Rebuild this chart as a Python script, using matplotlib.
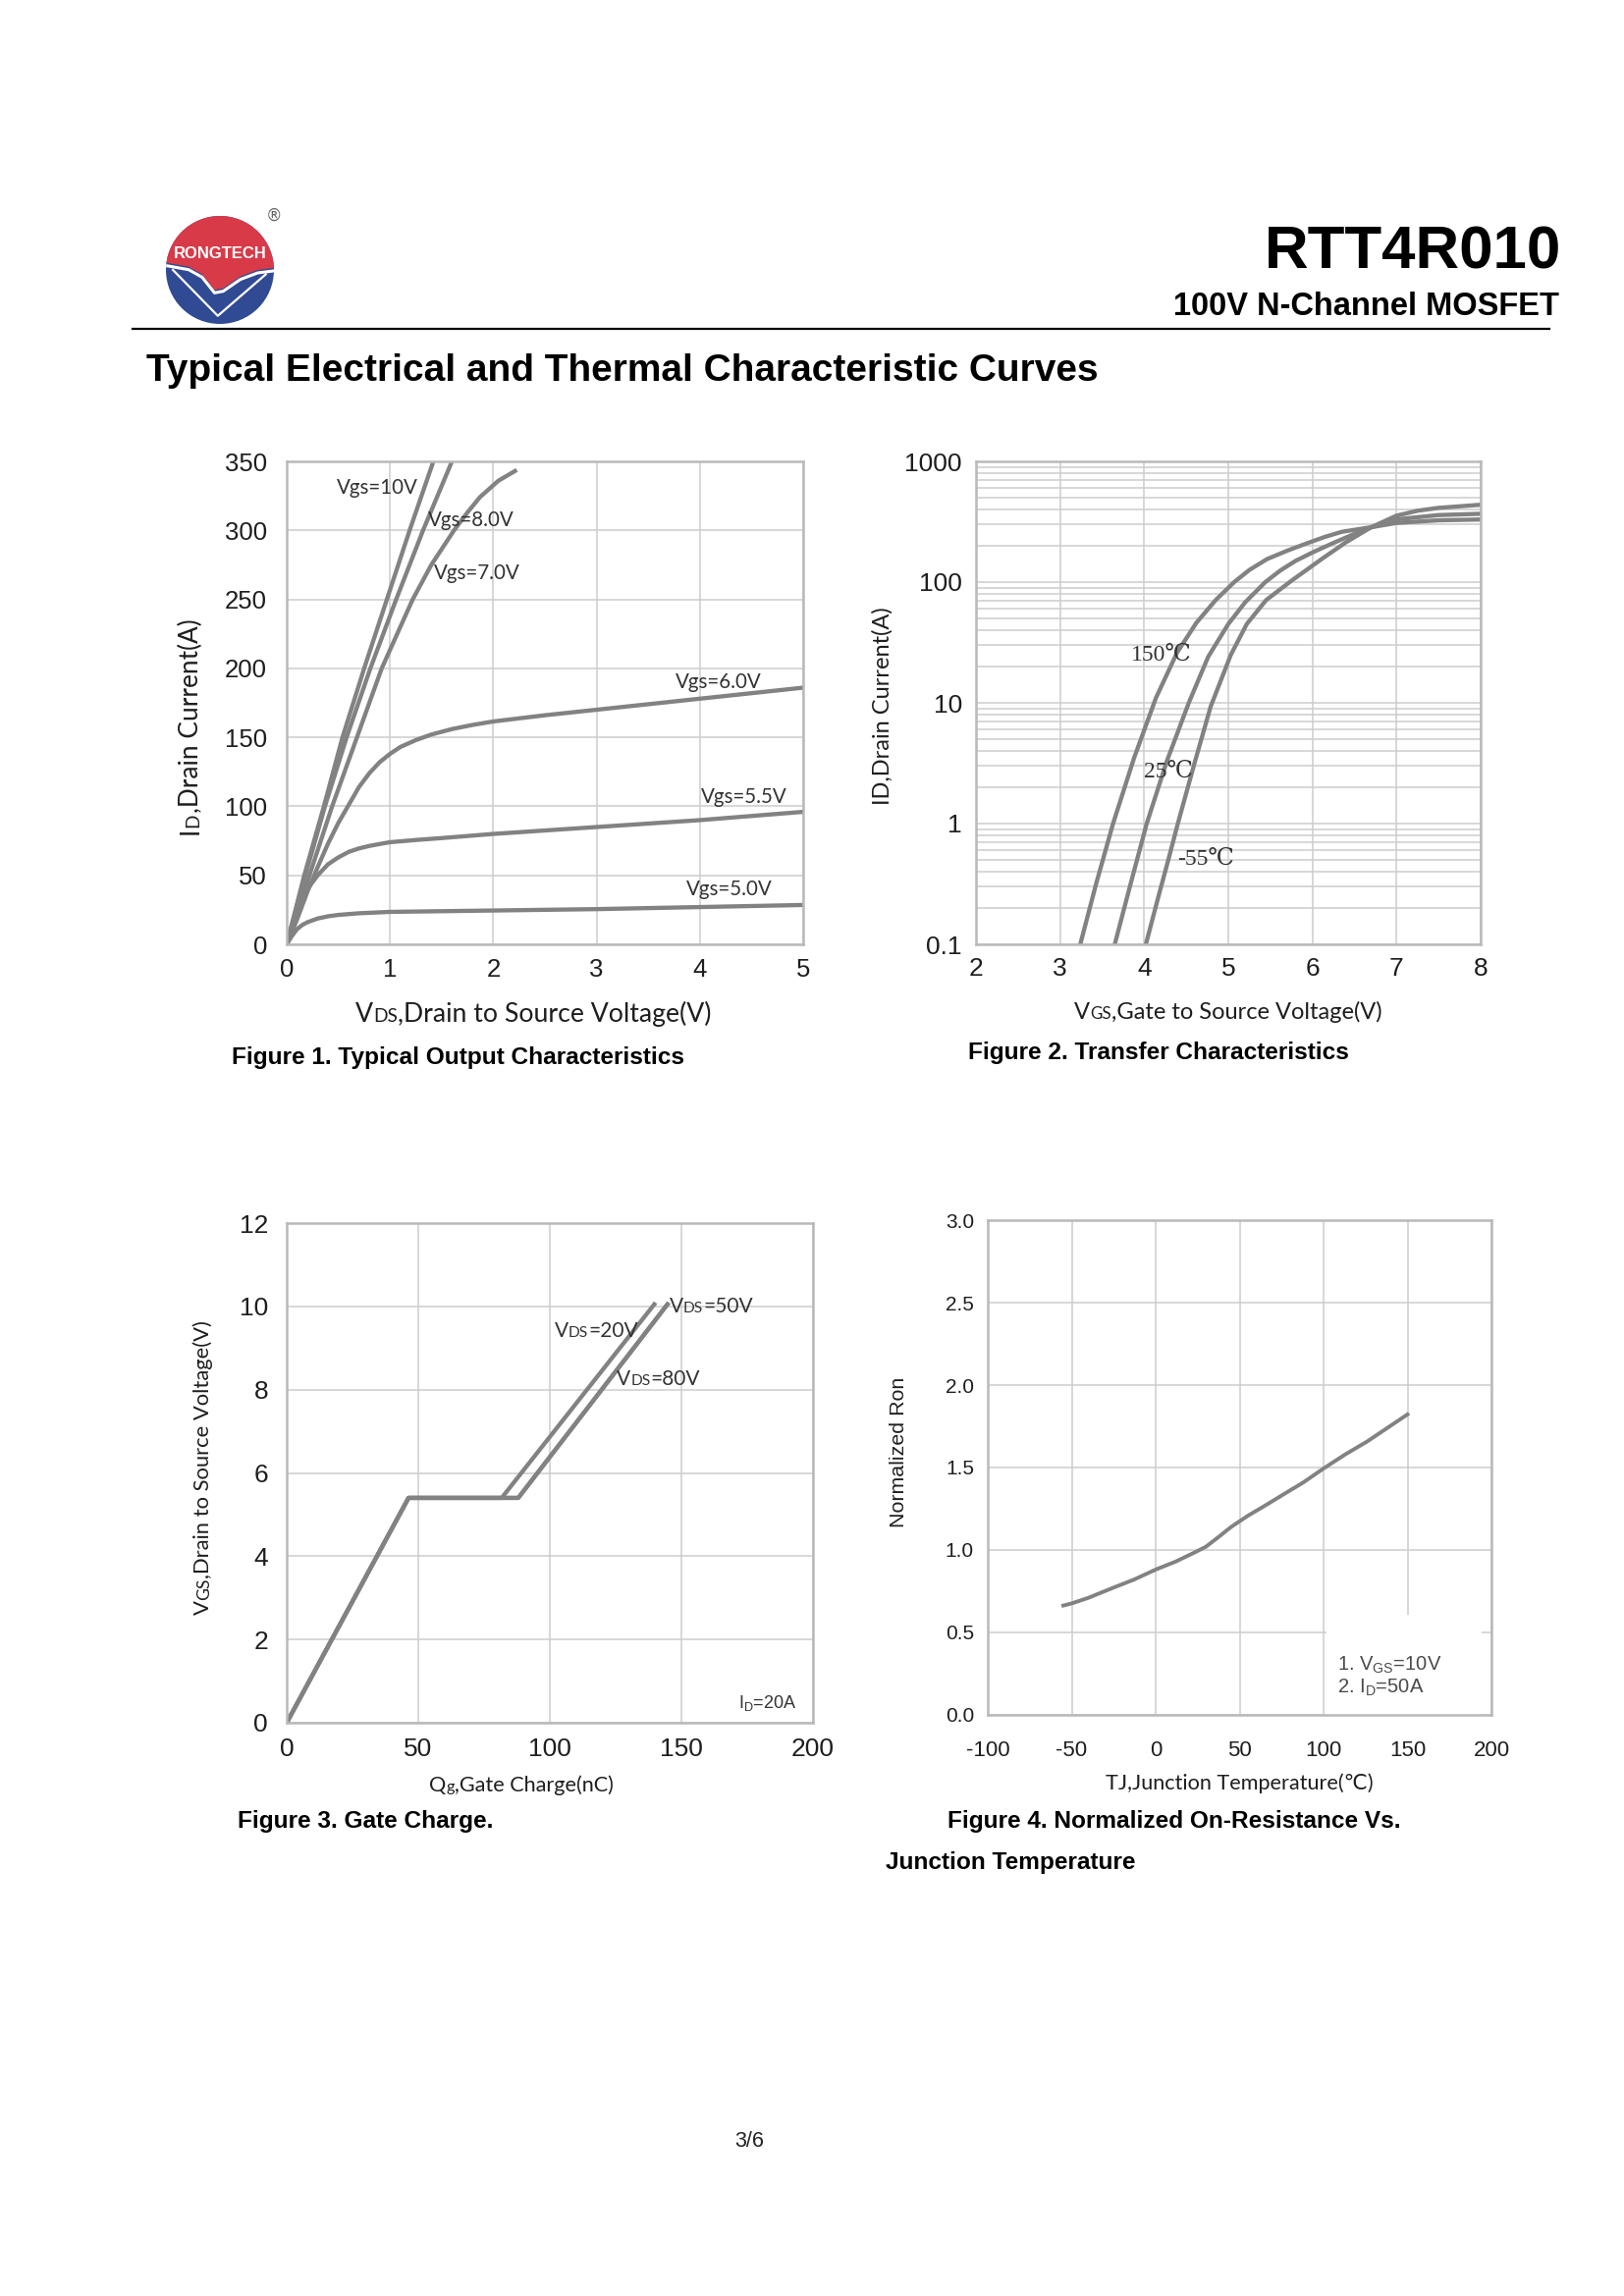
import matplotlib
matplotlib.use("Agg")
import matplotlib.pyplot as plt
import numpy as np
from matplotlib.patches import Circle, Polygon, Rectangle
from matplotlib.ticker import LogLocator, NullFormatter

W, H = 1654, 2339          # page size in pixels (dpi 100)
PT = 0.72                  # points per pixel

ARIAL = ["Liberation Sans", "DejaVu Sans"]
CALIBRI = ["Lato", "DejaVu Sans"]
SERIF = ["Liberation Serif", "DejaVu Serif"]

CURVE = "#828282"
GRID = "#cdcdcd"
SPINE = "#b9b9b9"
TEXT = "#1e1e1e"
RED = "#d83a48"
BLUE = "#304a93"
LW = 3.1

plt.rcParams["font.family"] = ARIAL
plt.rcParams["axes.unicode_minus"] = False

# ---------------- Figure 1: typical output characteristics (VDS [V], ID [A])
out_labels = ["Vgs=10V", "Vgs=8.0V", "Vgs=7.0V", "Vgs=6.0V", "Vgs=5.5V", "Vgs=5.0V"]
out_vds = [
    [0, 0.17, 0.36, 0.54, 0.75, 0.97, 1.19, 1.42],
    [0, 0.18, 0.37, 0.58, 0.81, 1.06, 1.32, 1.60],
    [0, 0.22, 0.44, 0.68, 0.92, 1.22, 1.40, 1.62, 1.75, 1.87, 2.05, 2.21],
    [0, 0.1, 0.2, 0.3, 0.4, 0.5, 0.6, 0.7, 0.8, 0.9, 1.0, 1.1, 1.25, 1.4, 1.6, 1.8,
     2.0, 2.5, 3.0, 3.5, 4.0, 4.5, 5.0],
    [0, 0.05, 0.1, 0.15, 0.2, 0.3, 0.4, 0.5, 0.6, 0.7, 0.8, 0.9, 1.0, 1.25, 1.5, 2.0,
     3.0, 4.0, 5.0],
    [0, 0.05, 0.1, 0.15, 0.2, 0.3, 0.4, 0.5, 0.7, 1.0, 1.5, 2.0, 3.0, 4.0, 5.0],
]
out_id = [
    [0, 50, 100, 150, 200, 250, 300, 350],
    [0, 50, 100, 150, 200, 250, 300, 350],
    [0, 50, 100, 150, 200, 250, 275, 300, 313, 324, 336, 343],
    [0, 18, 38, 56, 73, 88, 101, 114, 124, 132, 138, 143, 148, 152, 156, 159,
     161.5, 166, 170, 174, 178, 182, 186],
    [0, 13, 25, 33, 40, 50, 58, 63, 67, 69.5, 71.3, 72.7, 74, 75.6, 77, 80,
     85, 90, 96],
    [0, 6, 11, 14, 16, 18.7, 20.3, 21.3, 22.5, 23.5, 24, 24.5, 25.5, 27, 28.5],
]
out_label_pos = [(0.48, 331), (1.37, 307), (1.43, 269), (3.76, 190), (4.01, 107), (3.87, 40)]

# ---------------- Figure 2: transfer characteristics (VGS [V], ID [A])
tr_labels = ["150℃", "25℃", "-55℃"]
tr_vgs = [
    [3.24, 3.43, 3.63, 3.88, 4.14, 4.39, 4.62, 4.85, 5.07, 5.25, 5.46, 5.70, 5.93,
     6.15, 6.35, 6.70, 7.0, 7.5, 8.0],
    [3.65, 3.84, 4.03, 4.27, 4.53, 4.76, 5.00, 5.20, 5.44, 5.62, 5.80, 6.03, 6.27,
     6.50, 6.70, 7.0, 7.5, 8.0],
    [4.02, 4.17, 4.29, 4.40, 4.60, 4.79, 5.03, 5.22, 5.45, 5.77, 5.95, 6.12, 6.40,
     6.70, 7.0, 7.25, 7.5, 8.0],
]
tr_id = [
    [0.1, 0.32, 1, 3.5, 11, 26, 46, 71, 100, 126, 155, 182, 209, 237, 261, 285, 309, 325, 330],
    [0.1, 0.32, 1, 3.3, 10, 24, 45, 68, 100, 125, 150, 180, 214, 251, 285, 331, 359, 368],
    [0.1, 0.25, 0.51, 1, 3.2, 9.3, 25, 45, 71, 105, 129, 157, 214, 285, 355, 390, 412, 437],
]
tr_label_pos = [(3.84, 25), (4.00, 2.66), (4.40, 0.51)]

# ---------------- Figure 3: gate charge (Qg [nC], VGS [V])
gc_labels = [("20V", (101.7, 9.41)), ("50V", (145.5, 10.0)), ("80V", (125.5, 8.25))]
gc_qg = [
    [0, 46.3, 81.7, 139.7],
    [0, 46.3, 88.0, 144.7],
    [0, 46.3, 88.0, 144.7],
]
gc_vgs = [
    [0, 5.4, 5.4, 10.05],
    [0, 5.4, 5.4, 10.05],
    [0, 5.4, 5.4, 10.05],
]

# ---------------- Figure 4: normalized on-resistance vs junction temperature
tj = [-55, -50, -40, -27, -13, 0, 12, 23, 30, 37, 45, 55, 65, 75, 88, 100, 113, 126, 138, 150]
ron = [0.663, 0.676, 0.71, 0.764, 0.82, 0.881, 0.93, 0.984, 1.02, 1.075, 1.14, 1.208,
       1.268, 1.33, 1.41, 1.494, 1.58, 1.658, 1.74, 1.822]


def px_axes(fig, l, t, r, b):
    return fig.add_axes([l / W, 1 - b / H, (r - l) / W, (b - t) / H])


def style(ax, size, xpad, ypad):
    ax.set_axisbelow(True)
    ax.grid(True, which="major", color=GRID, lw=1.1)
    for sp in ax.spines.values():
        sp.set_color(SPINE)
        sp.set_linewidth(1.8)
    ax.tick_params(which="both", length=0, labelsize=size, labelcolor=TEXT)
    ax.tick_params(axis="x", pad=xpad * PT)
    ax.tick_params(axis="y", pad=ypad * PT)


def rich(ax, x, y, parts, size, rotation=0, color=TEXT, family=CALIBRI,
         ha="left", va="baseline"):
    """Text made of pieces of different sizes (small caps like 'VDS')."""
    s, k = parts[0]
    prev = ax.text(x, y, s, fontsize=size * k, rotation=rotation, ha=ha, va=va,
                   color=color, family=family)
    prev_size = size * k
    for s, k in parts[1:]:
        fs = size * k
        d = 0.21 * (prev_size - fs)
        if rotation:
            prev = ax.annotate(s, xy=(1, 1), xycoords=prev, xytext=(-d, 0),
                               textcoords="offset points", ha="right", va="bottom",
                               rotation=rotation, fontsize=fs, color=color, family=family)
        else:
            prev = ax.annotate(s, xy=(1, 0), xycoords=prev, xytext=(0, d),
                               textcoords="offset points", ha="left", va="bottom",
                               fontsize=fs, color=color, family=family)
        prev_size = fs


fig = plt.figure(figsize=(W / 100, H / 100), dpi=100)
fig.patch.set_facecolor("white")

page = fig.add_axes([0, 0, 1, 1])
page.set_xlim(0, W)
page.set_ylim(H, 0)
page.axis("off")
page.set_zorder(-5)

# ---------------- header
page.text(1590, 273, "RTT4R010", ha="right", va="baseline", fontsize=44.5,
          weight="bold", family=ARIAL, color="black")
page.text(1588, 321, "100V N-Channel MOSFET", ha="right", va="baseline", fontsize=23.5,
          weight="bold", family=ARIAL, color="black")
page.plot([135, 1578], [335, 335], color="black", lw=1.6)
page.text(149, 388, "Typical Electrical and Thermal Characteristic Curves", ha="left",
          va="baseline", fontsize=28, weight="bold", family=ARIAL, color="black")
page.text(279, 220, "®", ha="center", va="center", fontsize=12, color="#666666",
          family=["DejaVu Sans"])

# logo
R = 55
lax = px_axes(fig, 224 - 64, 275 - 64, 224 + 64, 275 + 64)
lax.set_xlim(-64, 64)
lax.set_ylim(-64, 64)
lax.axis("off")
disc = Circle((0, 0), R, fc=BLUE, ec="none")
lax.add_patch(disc)
edge_u = [-1.1, -0.97, -0.58, -0.33, -0.10, 0.06, 0.38, 0.70, 1.1]
edge_v = [0.14, 0.13, 0.06, -0.08, -0.37, -0.34, -0.12, 0.0, 0.05]
red_pts = [(u * R, v * R) for u, v in zip(edge_u, edge_v)] + [(64, 64), (-64, 64)]
red = Polygon(red_pts, closed=True, fc=RED, ec="none")
lax.add_patch(red)
red.set_clip_path(disc)
ln, = lax.plot([u * R for u in edge_u], [v * R - 3 for v in edge_v], color="white", lw=2.2)
ln.set_clip_path(disc)
vl, = lax.plot([-0.87 * R, -0.04 * R, 0.85 * R], [0.0, -0.85 * R, -0.08 * R],
               color="white", lw=1.6)
vl.set_clip_path(disc)
lax.text(0, 12, "RONGTECH", ha="center", va="baseline", fontsize=12, weight="bold",
         color="white", family=ARIAL)

# ---------------- Figure 1
ax1 = px_axes(fig, 292, 470, 818, 962)
style(ax1, 18.5, 14, 20)
for v, i in zip(out_vds, out_id):
    ax1.plot(v, i, color=CURVE, lw=LW)
for lab, (x, y) in zip(out_labels, out_label_pos):
    ax1.text(x, y, lab, ha="left", va="center", fontsize=14.8, family=CALIBRI, color="#333333")
ax1.set_xlim(0, 5)
ax1.set_ylim(0, 350)
ax1.set_xticks(range(0, 6))
ax1.set_yticks(range(0, 351, 50))

rich(page, 362, 1041, [("V", 1), ("DS", 0.72), (",Drain to Source Voltage(V)", 1)], 19.2)
rich(page, 207, 850, [("I", 1), ("D", 0.72), (",Drain Current(A)", 1)], 18.9,
     rotation=90, ha="right", va="bottom")
page.text(236, 1084, "Figure 1. Typical Output Characteristics", fontsize=17.6,
          weight="bold", family=ARIAL, color="black", va="baseline")

# ---------------- Figure 2
ax2 = px_axes(fig, 994, 470, 1508, 962)
ax2.set_yscale("log")
style(ax2, 19, 13, 14)
ax2.yaxis.set_minor_locator(LogLocator(base=10, subs=np.arange(2, 10)))
ax2.yaxis.set_minor_formatter(NullFormatter())
ax2.grid(True, which="minor", color=GRID, lw=1.1)
for v, i in zip(tr_vgs, tr_id):
    ax2.plot(v, i, color=CURVE, lw=LW)
for lab, (x, y) in zip(tr_labels, tr_label_pos):
    ax2.text(x, y, lab, ha="left", va="center", fontsize=17, family=SERIF, color="#333333")
ax2.set_xlim(2, 8)
ax2.set_ylim(0.1, 1000)
ax2.set_xticks(range(2, 9))
ax2.set_yticks([0.1, 1, 10, 100, 1000])
ax2.set_yticklabels(["0.1", "1", "10", "100", "1000"])

rich(page, 1094, 1038, [("V", 1), ("GS", 0.72), (",Gate to Source Voltage(V)", 1)], 17)
page.text(910, 820, "ID,Drain Current(A)", rotation=90, ha="right", va="bottom",
          fontsize=17, family=CALIBRI, color=TEXT)
page.text(986, 1079, "Figure 2. Transfer Characteristics", fontsize=17.6,
          weight="bold", family=ARIAL, color="black", va="baseline")

# ---------------- Figure 3
ax3 = px_axes(fig, 292, 1246, 828, 1755)
style(ax3, 19, 15, 19)
for q, v in zip(gc_qg, gc_vgs):
    ax3.plot(q, v, color=CURVE, lw=LW)
for lab, (x, y) in gc_labels:
    rich(ax3, x, y, [("V", 1), ("DS", 0.75), ("=" + lab, 1)], 15, color="#333333",
         va="center")
ax3.text(193.8, 0.46, r"I$_\mathregular{D}$=20A", ha="right", va="center", fontsize=13,
         color="#333333", family=ARIAL)
ax3.set_xlim(0, 200)
ax3.set_ylim(0, 12)
ax3.set_xticks(range(0, 201, 50))
ax3.set_yticks(range(0, 13, 2))

rich(page, 437, 1825, [("Q", 1), ("g", 0.75), (",Gate Charge(nC)", 1)], 15.6)
rich(page, 217, 1645, [("V", 1), ("GS", 0.8), (",Drain to Source Voltage(V)", 1)], 15.8,
     rotation=90, ha="right", va="bottom")
page.text(242, 1862, "Figure 3. Gate Charge.", fontsize=17.6,
          weight="bold", family=ARIAL, color="black", va="baseline")

# ---------------- Figure 4
ax4 = px_axes(fig, 1006, 1243, 1519, 1747)
style(ax4, 15, 26, 14)
ax4.tick_params(axis="x", labelsize=16)
ax4.add_patch(Rectangle((101.6, 0), 92.4, 0.61, fc="white", ec="none", zorder=0.9))
ax4.plot(tj, ron, color=CURVE, lw=LW - 0.3)
ax4.text(108, 0.30, r"1. V$_\mathregular{GS}$=10V", ha="left", va="center", fontsize=14.5,
         color="#4a4a4a", family=ARIAL)
ax4.text(108, 0.164, r"2. I$_\mathregular{D}$=50A", ha="left", va="center", fontsize=14.5,
         color="#4a4a4a", family=ARIAL)
ax4.set_xlim(-100, 200)
ax4.set_ylim(0, 3)
ax4.set_xticks(range(-100, 201, 50))
ax4.set_yticks(np.arange(0, 3.01, 0.5))
ax4.set_yticklabels([f"{t:.1f}" for t in np.arange(0, 3.01, 0.5)])

page.text(1126, 1823, "TJ,Junction Temperature(℃)", fontsize=15.6, family=CALIBRI,
          color=TEXT, va="baseline")
page.text(925, 1556, "Normalized Ron", rotation=90, ha="right", va="bottom",
          fontsize=15.4, family=ARIAL, color=TEXT)
page.text(965, 1862, "Figure 4. Normalized On-Resistance Vs.", fontsize=17.6,
          weight="bold", family=ARIAL, color="black", va="baseline")
page.text(902, 1904, "Junction Temperature", fontsize=17.6,
          weight="bold", family=ARIAL, color="black", va="baseline")

page.text(763, 2187, "3/6", ha="center", va="baseline", fontsize=15.5, family=ARIAL,
          color="#222222")

fig.savefig("out.png", dpi=100, facecolor="white")
